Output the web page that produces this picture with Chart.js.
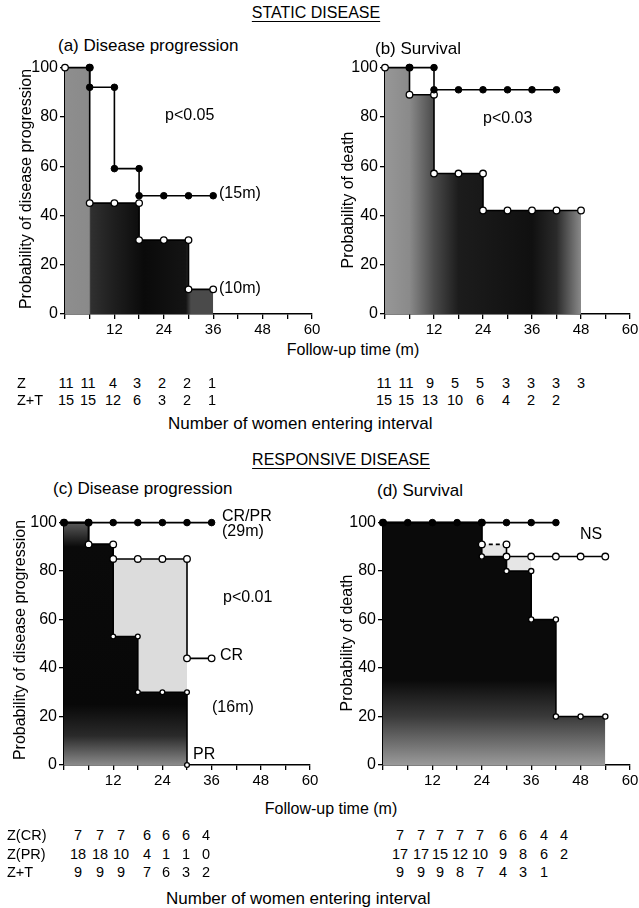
<!DOCTYPE html>
<html>
<head>
<meta charset="utf-8">
<script src="https://cdn.jsdelivr.net/npm/chart.js@4.4.1/dist/chart.umd.min.js"></script>
<style>
  html, body { margin: 0; padding: 0; background: #fff; overflow: hidden; }
  body { width: 639px; height: 908px; position: relative; font-family: "Liberation Sans", Arial, sans-serif; color: #000; }
  canvas { position: absolute; }
  .t { position: absolute; white-space: nowrap; font-size: 16px; line-height: 1; }
  .c { transform: translate(-50%, -50%); }
  .l { transform: translate(0, -50%); }
  .n { font-size: 14.5px; }
  .big { font-size: 17px; }
  .v { transform: translate(-50%, -50%) rotate(-90deg); }
  .u { text-decoration: underline; text-underline-offset: 3px; }
</style>
</head>
<body>
<canvas id="chartA" width="303" height="282" style="left:21px;top:56px"></canvas>
<canvas id="chartB" width="301" height="282" style="left:341px;top:56px"></canvas>
<canvas id="chartC" width="302" height="278" style="left:20px;top:511px"></canvas>
<canvas id="chartD" width="303" height="278" style="left:339px;top:511px"></canvas>
<div id="labels"></div>
<script>
// (a) static disease - disease progression
const aZ_t  = [6, 6, 12, 12, 18, 18, 24, 30, 36];
const aZ_p  = [100, 92, 92, 59, 59, 48, 48, 48, 48];
const aZT_t = [0, 6, 6, 12, 18, 18, 24, 30, 30, 36];
const aZT_p = [100, 100, 45, 45, 45, 30, 30, 30, 10, 10];

// (b) static disease - survival
const bZ_t  = [6, 12, 12, 18, 24, 30, 36, 42];
const bZ_p  = [100, 100, 91, 91, 91, 91, 91, 91];
const bZT_t = [0, 6, 6, 12, 12, 18, 24, 24, 30, 36, 42, 48];
const bZT_p = [100, 100, 89, 89, 57, 57, 57, 42, 42, 42, 42, 42];

// (c) responsive disease - disease progression
const cAll_t = [0, 6, 12, 18, 24, 30, 36];
const cAll_p = [100, 100, 100, 100, 100, 100, 100];
const cCR_t  = [0, 6, 6, 12, 12, 18, 24, 30, 30, 36];
const cCR_p  = [100, 100, 91, 91, 85, 85, 85, 85, 44, 44];
const cPR_t  = [0, 6, 6, 12, 12, 18, 18, 24, 30, 30];
const cPR_p  = [100, 100, 91, 91, 53, 53, 30, 30, 30, 0];

// (d) responsive disease - survival
const dTop_t = [0, 6, 12, 18, 24, 30, 36, 42];
const dTop_p = [100, 100, 100, 100, 100, 100, 100, 100];
const dMid_t = [0, 24, 24, 30, 30, 36, 42, 48, 54];
const dMid_p = [100, 100, 91, 91, 86, 86, 86, 86, 86];
const dLow_t = [0, 24, 24, 30, 30, 36, 36, 42, 42, 48, 54];
const dLow_p = [100, 100, 86, 86, 80, 80, 60, 60, 20, 20, 20];

// number of women entering interval
const staticProgZ  = [11, 11, 4, 3, 2, 2, 1];
const staticProgZT = [15, 15, 12, 6, 3, 2, 1];
const staticSurvZ  = [11, 11, 9, 5, 5, 3, 3, 3, 3];
const staticSurvZT = [15, 15, 13, 10, 6, 4, 2, 2];
const respProgCR = [7, 7, 7, 6, 6, 6, 4];
const respProgPR = [18, 18, 10, 4, 1, 1, 0];
const respProgZT = [9, 9, 9, 7, 6, 3, 2];
const respSurvCR = [7, 7, 7, 7, 7, 6, 6, 4, 4];
const respSurvPR = [17, 17, 15, 12, 10, 9, 8, 6, 2];
const respSurvZT = [9, 9, 9, 8, 7, 4, 3, 1];

const FONT = "'Liberation Sans', Arial, sans-serif";

function pts(ts, ps) {
    return ts.map((t, i) => ({ x: t, y: ps[i] }));
}

// gradient over the chart area to imitate the printed stipple
function shade(stops, vertical) {
    return function (ctx) {
        const chart = ctx.chart;
        const area = chart.chartArea;
        if (!area) return '#222';
        const g = vertical
            ? chart.ctx.createLinearGradient(0, area.bottom, 0, area.top)
            : chart.ctx.createLinearGradient(area.left, 0, area.right, 0);
        stops.forEach(s => g.addColorStop(s[0], s[1]));
        return g;
    };
}

function filledLine(data) {
    return { data: data, borderColor: '#000', borderWidth: 1.6, pointRadius: 3.3,
        pointBackgroundColor: '#000', pointBorderColor: '#000', pointBorderWidth: 1,
        fill: false, order: 0, clip: false };
}

function openLine(data, extra) {
    return Object.assign({ data: data, borderColor: '#000', borderWidth: 1.6, pointRadius: 3.3,
        pointBackgroundColor: '#fff', pointBorderColor: '#000', pointBorderWidth: 1.3,
        fill: false, order: 1, clip: false }, extra || {});
}

function shadeOnly(data, color) {
    return { data: data, borderWidth: 0, pointRadius: 0, backgroundColor: color,
        fill: 'origin', order: 3 };
}

function axis(min, max, step, size, fitFn, cb) {
    return {
        type: 'linear', min: min, max: max,
        afterFit: fitFn,
        ticks: { stepSize: step, autoSkip: false, maxRotation: 0, color: '#000', padding: 2,
            font: { size: size, family: FONT }, callback: cb },
        grid: { drawOnChartArea: false, drawTicks: true, tickLength: 5, color: '#000', lineWidth: 1.3 },
        border: { color: '#000', width: 1.6 }
    };
}

function makeChart(id, datasets) {
    return new Chart(document.getElementById(id), {
        type: 'line',
        data: { datasets: datasets },
        options: {
            responsive: false,
            animation: false,
            layout: { padding: { top: 6, right: 12, left: 0, bottom: 0 } },
            plugins: { legend: { display: false }, tooltip: { enabled: false } },
            scales: {
                x: axis(0, 60, 6, 15, s => { s.height = 24; }, v => (v > 0 && v % 12 === 0) ? v : ''),
                y: axis(0, 100, 20, 16, s => { s.width = 44; }, v => v)
            }
        }
    });
}

makeChart('chartA', [
    filledLine(pts(aZ_t, aZ_p)),
    openLine(pts(aZT_t, aZT_p), { fill: 'origin', order: 2,
        backgroundColor: shade([[0, '#8e8e8e'], [0.098, '#8a8a8a'], [0.104, '#303030'], [0.2, '#1e1e1e'],
            [0.32, '#0a0a0a'], [0.49, '#141414'], [0.51, '#4a4a4a'], [1, '#4a4a4a']], false) })
]);

makeChart('chartB', [
    filledLine(pts(bZ_t, bZ_p)),
    openLine(pts(bZT_t, bZT_p), { fill: 'origin', order: 2,
        backgroundColor: shade([[0, '#979797'], [0.1, '#8a8a8a'], [0.2, '#4a4a4a'], [0.3, '#1c1c1c'],
            [0.6, '#101010'], [0.7, '#2a2a2a'], [0.8, '#8a8a8a'], [1, '#8a8a8a']], false) })
]);

makeChart('chartC', [
    filledLine(pts(cAll_t, cAll_p)),
    openLine(pts(cCR_t, cCR_p)),
    openLine(pts(cPR_t, cPR_p), { fill: 'origin', order: 2, pointRadius: 2.4,
        backgroundColor: shade([[0, '#8a8a8a'], [0.12, '#2a2a2a'], [0.25, '#080808'],
            [0.9, '#0a0a0a'], [1, '#5a5a5a']], true) }),
    shadeOnly(pts(cCR_t.slice(0, 8), cCR_p.slice(0, 8)), '#dcdcdc')
]);

makeChart('chartD', [
    filledLine(pts(dTop_t, dTop_p)),
    openLine(pts(dMid_t, dMid_p), {
        segment: { borderDash: ctx => (ctx.p0.parsed.y === 91 && ctx.p1.parsed.y === 91) ? [4, 3] : undefined } }),
    openLine(pts(dLow_t, dLow_p), { fill: 'origin', order: 2, pointRadius: 2.6,
        backgroundColor: shade([[0, '#9a9a9a'], [0.2, '#3a3a3a'], [0.35, '#0a0a0a'], [1, '#0a0a0a']], true) }),
    shadeOnly(pts(dMid_t.slice(0, 6), dMid_p.slice(0, 6)), '#e6e6e6')
]);

// text around the plots
const box = document.getElementById('labels');
function label(text, x, y, cls) {
    const d = document.createElement('div');
    d.className = 't ' + (cls || 'l');
    d.textContent = text;
    d.style.left = x + 'px';
    d.style.top = y + 'px';
    box.appendChild(d);
}
function row(values, xs, y) {
    values.forEach((v, i) => label(String(v), xs[i], y, 'c n'));
}

label('STATIC DISEASE', 316, 13, 'c u');
label('(a) Disease progression', 58, 45, 'l big');
label('(b) Survival', 375, 48, 'l big');
label('p<0.05', 165, 115);
label('(15m)', 219, 193);
label('(10m)', 219, 288);
label('p<0.03', 483, 118);
label('Probability of disease progression', 26, 189, 'v');
label('Probability of death', 348, 200, 'v');
label('Follow-up time (m)', 353, 350, 'c');

const topLeftX  = [66, 88, 113, 137, 162, 187, 212];
const topRightX = [384, 406, 430, 455, 480, 506, 531, 556, 581];
label('Z', 17, 383, 'l n');
label('Z+T', 17, 400, 'l n');
row(staticProgZ, topLeftX, 383);
row(staticProgZT, topLeftX, 400);
row(staticSurvZ, topRightX, 383);
row(staticSurvZT, topRightX, 400);
label('Number of women entering interval', 168, 423, 'l big');

label('RESPONSIVE DISEASE', 341, 460, 'c u');
label('(c) Disease progression', 53, 488, 'l big');
label('(d) Survival', 377, 490, 'l big');
label('CR/PR', 222, 516);
label('(29m)', 222, 531);
label('p<0.01', 223, 597);
label('CR', 220, 655);
label('(16m)', 212, 707);
label('PR', 193, 754);
label('NS', 580, 534);
label('Probability of disease progression', 20, 640, 'v');
label('Probability of death', 347, 643, 'v');
label('Follow-up time (m)', 331, 809, 'c');

const botLeftX  = [78, 100, 121, 147, 166, 186, 206];
const botRightX = [400, 421, 440, 460, 480, 503, 523, 544, 564];
label('Z(CR)', 7, 835, 'l n');
label('Z(PR)', 7, 854, 'l n');
label('Z+T', 7, 872, 'l n');
row(respProgCR, botLeftX, 835);
row(respProgPR, botLeftX, 854);
row(respProgZT, botLeftX, 872);
row(respSurvCR, botRightX, 835);
row(respSurvPR, botRightX, 854);
row(respSurvZT, botRightX, 872);
label('Number of women entering interval', 166, 898, 'l big');
</script>
</body>
</html>
